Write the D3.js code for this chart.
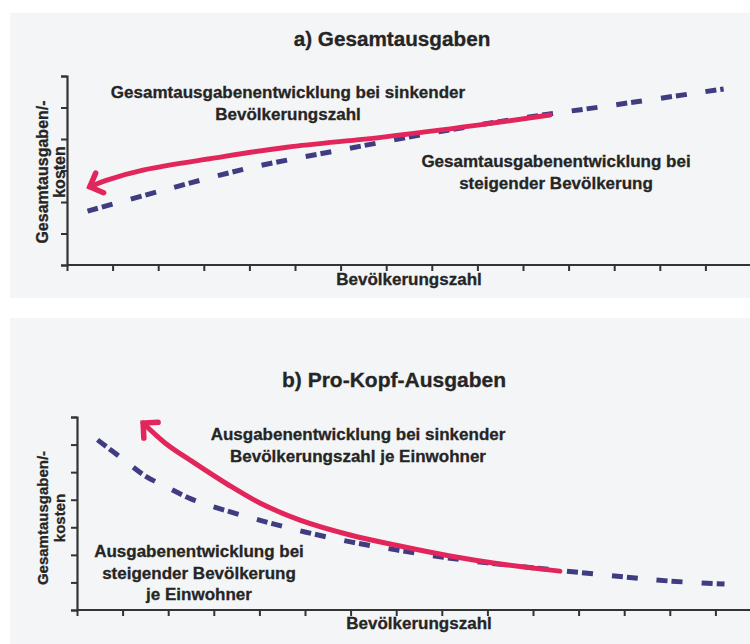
<!DOCTYPE html>
<html><head><meta charset="utf-8">
<script src="https://cdn.jsdelivr.net/npm/d3@7"></script>
<style>
html,body{margin:0;padding:0;background:#fff;}
svg{display:block;}
text{font-family:"Liberation Sans",Arial,sans-serif;font-weight:bold;fill:#252525;stroke:#252525;stroke-width:0.3px;}
</style></head>
<body>
<script>
// ---- data (abstract units: x = Bevölkerungszahl ticks, y = Ausgaben ticks) ----
const xTicksA = d3.range(0, 16);          // 15 intervals on x axis
const yTicksA = d3.range(0, 7);           // 6 intervals on y axis (panel a)
const xTicksB = d3.range(0, 16);
const yTicksB = d3.range(0, 8);           // 7 intervals on y axis (panel b)

// Panel a – Gesamtausgaben
const dashAX = [0.45, 2, 4, 6, 8, 10, 12, 14.4];
const dashAY = [1.71, 2.33, 3.08, 3.65, 4.19, 4.67, 5.08, 5.59];
const redAX  = [10.59, 9.01, 6.93, 4.82, 3.25, 1.69, 0.86, 0.50];
const redAY  = [4.76, 4.44, 4.06, 3.74, 3.40, 3.02, 2.69, 2.48];

// Panel b – Pro-Kopf-Ausgaben
const dashBX = [0.45, 1, 1.5, 2, 2.5, 3, 4, 5, 6, 7, 8, 9, 10.5, 12, 13, 14.2];
const dashBY = [6.17, 5.48, 4.86, 4.43, 4.03, 3.74, 3.26, 2.83, 2.47, 2.18, 1.92, 1.71, 1.45, 1.20, 1.05, 0.94];
const redBX  = [10.59, 9.28, 8.18, 7.08, 5.99, 4.89, 4.01, 3.29, 2.54, 1.93, 1.45];
const redBY  = [1.41, 1.67, 1.96, 2.32, 2.72, 3.26, 3.88, 4.57, 5.37, 6.06, 6.78];

const titles = ["a) Gesamtausgaben", "b) Pro-Kopf-Ausgaben"];
const yLabel = ["Gesamtausgaben/-", "kosten"];
const xLabel = "Bevölkerungszahl";
const notesA1 = ["Gesamtausgabenentwicklung bei sinkender", "Bevölkerungszahl"];
const notesA2 = ["Gesamtausgabenentwicklung bei", "steigender Bevölkerung"];
const notesB1 = ["Ausgabenentwicklung bei sinkender", "Bevölkerungszahl je Einwohner"];
const notesB2 = ["Ausgabenentwicklung bei", "steigender Bevölkerung", "je Einwohner"];

const RED = "#e2265c", BLUE = "#3f3c82", AXIS = "#333";

const svg = d3.select("body").append("svg").attr("width", 750).attr("height", 644);

// panel backgrounds
svg.append("rect").attr("x", 10).attr("y", 13).attr("width", 740).attr("height", 285).attr("fill", "#f4f5f6");
svg.append("rect").attr("x", 10).attr("y", 318).attr("width", 740).attr("height", 326).attr("fill", "#f4f5f6");

function panel(cfg) {
  const x = d3.scaleLinear().domain([0, 15]).range([cfg.x0, cfg.x0 + 15 * 45.6]);
  const y = d3.scaleLinear().domain([0, cfg.yTicks.length - 1]).range([cfg.yBottom, cfg.yTop]);
  const g = svg.append("g");

  // axes
  const xa = g.append("g").attr("transform", `translate(0,${cfg.yBottom})`)
    .call(d3.axisBottom(x).tickValues(cfg.xTicks).tickSize(6).tickFormat(""));
  const ya = g.append("g").attr("transform", `translate(${cfg.x0},0)`)
    .call(d3.axisLeft(y).tickValues(cfg.yTicks).tickSize(6).tickFormat(""));
  [xa, ya].forEach(a => {
    a.select(".domain").attr("stroke", AXIS).attr("stroke-width", 2.2);
    a.selectAll(".tick line").attr("stroke", AXIS).attr("stroke-width", 2);
  });
  xa.select(".domain").attr("d", `M${cfg.x0},0H750`);

  // title
  g.append("text").attr("x", cfg.titleX).attr("y", cfg.titleY).attr("text-anchor", "middle")
    .attr("font-size", cfg.titleSize).text(cfg.title);

  // y label
  const yl = g.append("text").attr("transform", `translate(0,${cfg.ylY}) rotate(-90)`)
    .attr("text-anchor", "middle").attr("font-size", cfg.ylSize);
  yl.append("tspan").attr("x", 0).attr("y", 48).text(yLabel[0]);
  yl.append("tspan").attr("x", 0).attr("y", 65).text(yLabel[1]);

  // x label
  g.append("text").attr("x", cfg.xlX).attr("y", cfg.xlY).attr("text-anchor", "middle")
    .attr("font-size", 17).text(xLabel);

  // notes
  cfg.notes.forEach(n => {
    n.lines.forEach((t, i) => {
      g.append("text").attr("x", n.x).attr("y", n.y + i * n.dy).attr("text-anchor", "middle")
        .attr("font-size", 17).text(t);
    });
  });

  // dashed line
  const line = d3.line().x(d => x(d[0])).y(d => y(d[1])).curve(d3.curveCatmullRom.alpha(0.5));
  const dashPts = d3.zip(cfg.dashX, cfg.dashY);
  g.append("path").attr("d", line(dashPts)).attr("fill", "none").attr("stroke", BLUE)
    .attr("stroke-width", 5).attr("stroke-dasharray", "11,4,11,19");

  // red arrow line
  const redPts = d3.zip(cfg.redX, cfg.redY);
  g.append("path").attr("d", line(redPts)).attr("fill", "none").attr("stroke", RED)
    .attr("stroke-width", 5).attr("stroke-linecap", "round");
  const n = redPts.length;
  const tip = [x(redPts[n - 1][0]), y(redPts[n - 1][1])];
  const prev = [x(redPts[n - 2][0]), y(redPts[n - 2][1])];
  const ang = Math.atan2(prev[1] - tip[1], prev[0] - tip[0]);
  const L = 15, spread = Math.PI / 4;
  const a1 = [tip[0] + L * Math.cos(ang + spread), tip[1] + L * Math.sin(ang + spread)];
  const a2 = [tip[0] + L * Math.cos(ang - spread), tip[1] + L * Math.sin(ang - spread)];
  g.append("path").attr("d", `M${a1}L${tip}L${a2}`).attr("fill", "none").attr("stroke", RED)
    .attr("stroke-width", 5.5).attr("stroke-linecap", "round").attr("stroke-linejoin", "miter");
}

panel({
  x0: 67, yBottom: 265, yTop: 76, xTicks: xTicksA, yTicks: yTicksA,
  title: titles[0], titleX: 392, titleY: 46, titleSize: 20.7,
  ylY: 172, ylSize: 16, xlX: 409, xlY: 285,
  notes: [
    {lines: notesA1, x: 288, y: 98, dy: 22},
    {lines: notesA2, x: 556, y: 167, dy: 22}
  ],
  dashX: dashAX, dashY: dashAY, redX: redAX, redY: redAY
});

panel({
  x0: 77, yBottom: 610, yTop: 417, xTicks: xTicksB, yTicks: yTicksB,
  title: titles[1], titleX: 394, titleY: 387, titleSize: 21,
  ylY: 518, ylSize: 15, xlX: 419, xlY: 629,
  notes: [
    {lines: notesB1, x: 358, y: 440, dy: 22},
    {lines: notesB2, x: 199, y: 557, dy: 21.5}
  ],
  dashX: dashBX, dashY: dashBY, redX: redBX, redY: redBY
});
</script>
</body></html>
